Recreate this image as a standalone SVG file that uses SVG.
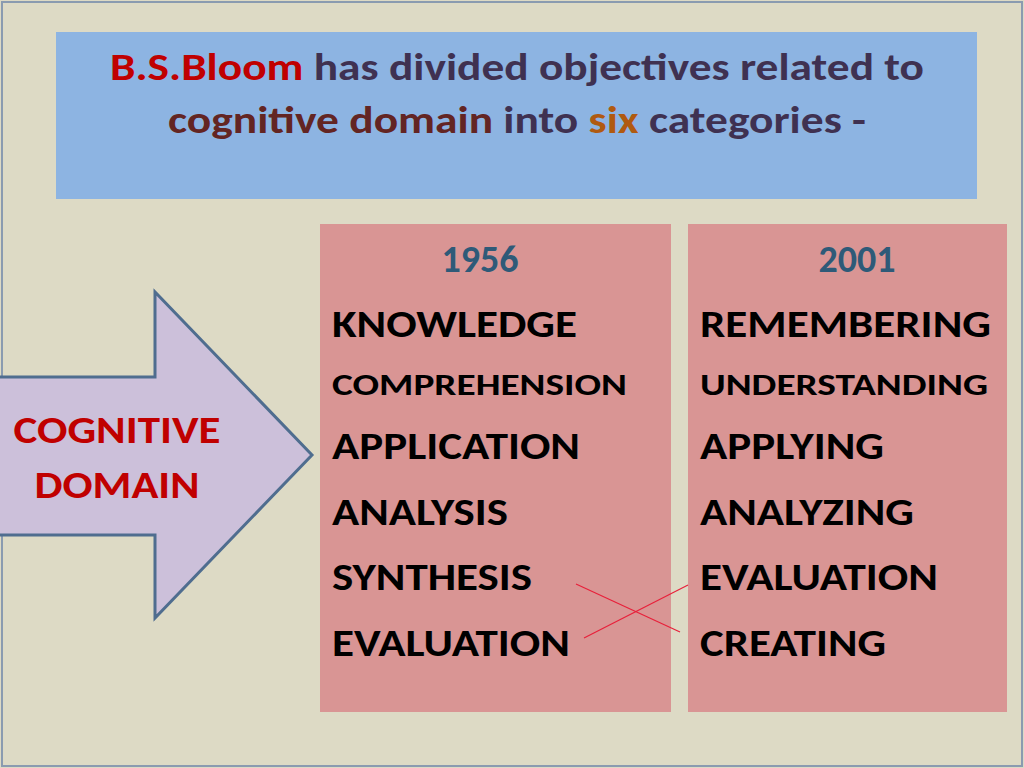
<svg xmlns="http://www.w3.org/2000/svg" width="1024" height="768" viewBox="0 0 1024 768">
<style>
text{font-family:Carlito,Lato,"Liberation Sans",sans-serif;font-weight:bold}
.item{font-size:38px;fill:#000}
.small{font-size:31px;fill:#000}
.year{font-size:38px;fill:#2E5A78;text-anchor:middle}
.red{fill:#C00000}
.pur{fill:#3F3151}
.brn{fill:#632523}
.org{fill:#B05A10}
.box{fill:#D99594}
</style>
<rect x="0" y="0" width="1024" height="768" fill="#DDDAC5"/>
<rect x="2" y="2" width="1020" height="764" fill="none" stroke="#8A9BB0" stroke-width="2"/>
<g id="title">
<rect x="56" y="32" width="921" height="167" fill="#8DB4E2"/>
<text x="110" y="80" font-size="38" textLength="814" lengthAdjust="spacingAndGlyphs"><tspan class="red">B.S.Bloom</tspan><tspan class="pur"> has divided objectives related to</tspan></text>
<text x="168" y="133" font-size="38" textLength="698" lengthAdjust="spacingAndGlyphs"><tspan class="brn">cognitive domain</tspan><tspan class="pur"> into </tspan><tspan class="org">six</tspan><tspan class="pur"> categories -</tspan></text>
</g>
<g id="arrow">
<polygon points="-2,377 155,377 155,292 312,455 155,618 155,535 -2,535" fill="#CCC0DA" stroke="#4F6D8F" stroke-width="3" stroke-linejoin="miter"/>
<text x="117" y="443" font-size="38" text-anchor="middle" class="red" textLength="207" lengthAdjust="spacingAndGlyphs">COGNITIVE</text>
<text x="117" y="498" font-size="38" text-anchor="middle" class="red" textLength="165" lengthAdjust="spacingAndGlyphs">DOMAIN</text>
</g>
<g id="col1956">
<rect class="box" x="320" y="224" width="351" height="488"/>
<text class="year" x="480" y="272">1956</text>
<text class="item" x="332" y="337" textLength="245" lengthAdjust="spacingAndGlyphs">KNOWLEDGE</text>
<text class="small" x="332" y="395" textLength="295" lengthAdjust="spacingAndGlyphs">COMPREHENSION</text>
<text class="item" x="332" y="459" textLength="248" lengthAdjust="spacingAndGlyphs">APPLICATION</text>
<text class="item" x="332" y="525" textLength="176" lengthAdjust="spacingAndGlyphs">ANALYSIS</text>
<text class="item" x="332" y="590" textLength="200" lengthAdjust="spacingAndGlyphs">SYNTHESIS</text>
<text class="item" x="332" y="656" textLength="238" lengthAdjust="spacingAndGlyphs">EVALUATION</text>
</g>
<g id="col2001">
<rect class="box" x="688" y="224" width="319" height="488"/>
<text class="year" x="857" y="272">2001</text>
<text class="item" x="700" y="337" textLength="291" lengthAdjust="spacingAndGlyphs">REMEMBERING</text>
<text class="small" x="700" y="395" textLength="288" lengthAdjust="spacingAndGlyphs">UNDERSTANDING</text>
<text class="item" x="700" y="459" textLength="184" lengthAdjust="spacingAndGlyphs">APPLYING</text>
<text class="item" x="700" y="525" textLength="214" lengthAdjust="spacingAndGlyphs">ANALYZING</text>
<text class="item" x="700" y="590" textLength="238" lengthAdjust="spacingAndGlyphs">EVALUATION</text>
<text class="item" x="700" y="656" textLength="186" lengthAdjust="spacingAndGlyphs">CREATING</text>
</g>
<g id="connectors" stroke="#E8203A" stroke-width="1.2">
<line x1="576" y1="584" x2="680" y2="632"/>
<line x1="584" y1="638" x2="688" y2="585"/>
</g>
</svg>
